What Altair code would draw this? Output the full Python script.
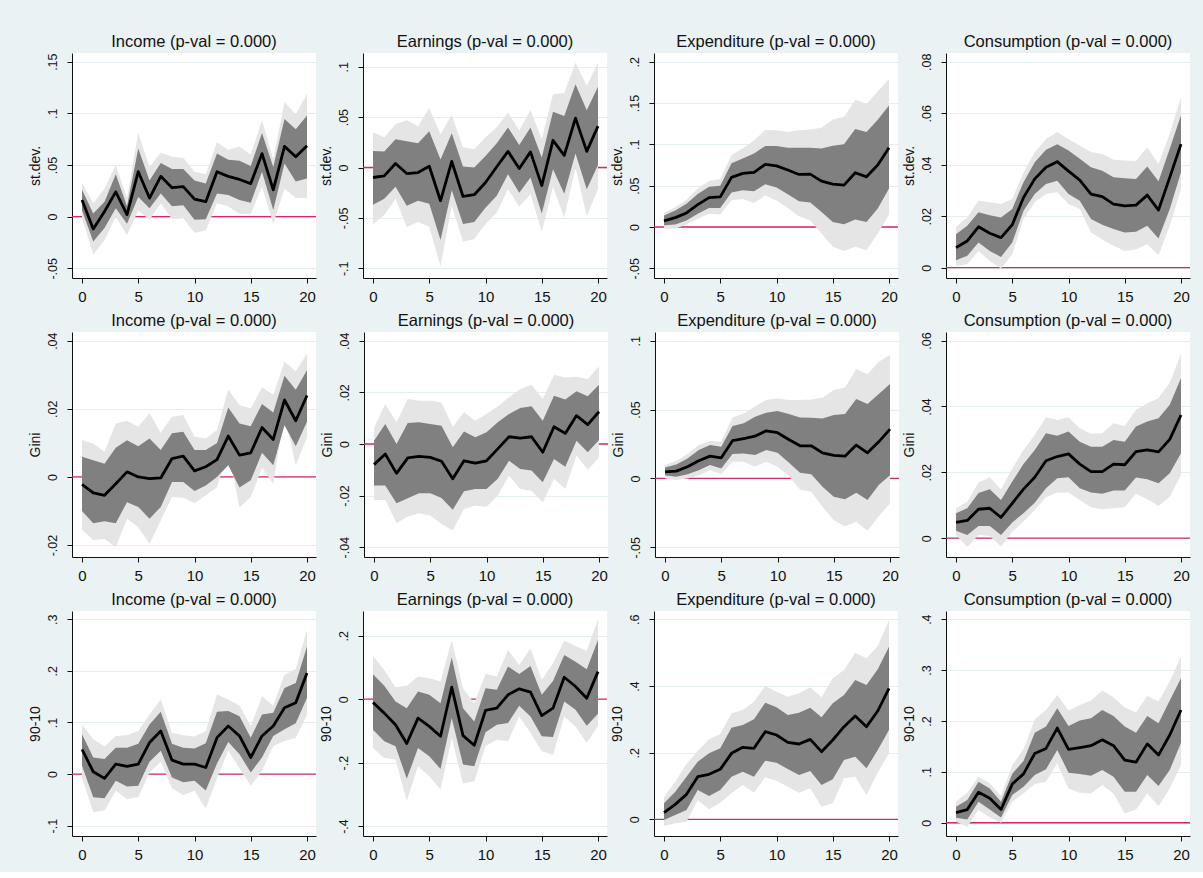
import altair as alt
import pandas as pd

H = list(range(21))

# ---------- Row 1: st.dev. ----------
inc_sd_est = [0.016, -0.012, 0.005, 0.024, 0.002, 0.0435, 0.018, 0.039, 0.028, 0.029, 0.017, 0.0145, 0.0435, 0.039, 0.036, 0.032, 0.061, 0.026, 0.068, 0.058, 0.0687]
inc_sd_ihi = [0.026, 0.003, 0.0145, 0.041, 0.010, 0.066, 0.035, 0.052, 0.046, 0.046, 0.035, 0.032, 0.061, 0.055, 0.054, 0.049, 0.081, 0.048, 0.0945, 0.0845, 0.098]
inc_sd_ilo = [0.006, -0.024, -0.011, 0.008, -0.007, 0.019, 0.008, 0.0225, 0.010, 0.011, -0.003, -0.0026, 0.0225, 0.021, 0.016, 0.0135, 0.0435, 0.0065, 0.0515, 0.034, 0.037]
inc_sd_ohi = [0.033, 0.013, 0.027, 0.050, 0.018, 0.081, 0.048, 0.062, 0.058, 0.057, 0.0435, 0.041, 0.072, 0.0645, 0.068, 0.060, 0.0935, 0.0555, 0.111, 0.099, 0.119]
inc_sd_olo = [-0.001, -0.037, -0.0225, 0.0, -0.018, 0.006, -0.003, 0.013, -0.0026, -0.0016, -0.0155, -0.0135, 0.013, 0.010, 0.0026, 0.0026, 0.029, -0.007, 0.027, 0.018, 0.018]

ear_sd_est = [-0.0099, -0.0083, 0.004, -0.006, -0.005, 0.0013, -0.033, 0.006, -0.0287, -0.027, -0.0149, 0.0007, 0.016, -0.001, 0.0155, -0.018, 0.027, 0.012, 0.049, 0.016, 0.041]
ear_sd_ihi = [0.0165, 0.016, 0.028, 0.026, 0.024, 0.036, 0.008, 0.034, 0.001, 0.0, 0.0115, 0.024, 0.0396, 0.0224, 0.0396, 0.0099, 0.0554, 0.051, 0.0825, 0.0568, 0.080]
ear_sd_ilo = [-0.037, -0.031, -0.019, -0.038, -0.033, -0.036, -0.072, -0.0225, -0.056, -0.054, -0.040, -0.028, -0.0066, -0.025, -0.0099, -0.0455, -0.0017, -0.026, 0.0139, -0.0215, 0.0026]
ear_sd_ohi = [0.035, 0.030, 0.043, 0.047, 0.041, 0.059, 0.033, 0.052, 0.020, 0.018, 0.030, 0.040, 0.0545, 0.037, 0.057, 0.028, 0.0726, 0.074, 0.104, 0.081, 0.104]
ear_sd_olo = [-0.056, -0.047, -0.031, -0.059, -0.054, -0.059, -0.098, -0.038, -0.0736, -0.071, -0.056, -0.0446, -0.0215, -0.039, -0.0264, -0.064, -0.019, -0.0495, 0.0, -0.048, -0.0215]

exp_sd_est = [0.0073, 0.0113, 0.017, 0.027, 0.0356, 0.0364, 0.060, 0.0648, 0.066, 0.0757, 0.074, 0.069, 0.0636, 0.064, 0.0555, 0.0518, 0.0506, 0.0656, 0.0607, 0.075, 0.096]
exp_sd_ihi = [0.014, 0.020, 0.028, 0.040, 0.0486, 0.050, 0.077, 0.083, 0.089, 0.098, 0.098, 0.096, 0.096, 0.096, 0.095, 0.0984, 0.100, 0.1186, 0.115, 0.1296, 0.147]
exp_sd_ilo = [0.002, 0.003, 0.008, 0.016, 0.023, 0.023, 0.0417, 0.0445, 0.0433, 0.0518, 0.0478, 0.0397, 0.031, 0.0296, 0.018, 0.006, 0.0032, 0.009, 0.006, 0.0223, 0.0466]
exp_sd_ohi = [0.017, 0.024, 0.033, 0.0466, 0.0555, 0.058, 0.087, 0.095, 0.1045, 0.1174, 0.117, 0.115, 0.117, 0.118, 0.120, 0.130, 0.133, 0.154, 0.149, 0.164, 0.179]
exp_sd_olo = [-0.002, -0.002, 0.003, 0.010, 0.016, 0.015, 0.0324, 0.034, 0.029, 0.038, 0.032, 0.023, 0.013, 0.008, -0.008, -0.024, -0.029, -0.024, -0.028, -0.008, 0.015]

con_sd_est = [0.0078, 0.0104, 0.0159, 0.0134, 0.0117, 0.0167, 0.0273, 0.0345, 0.039, 0.0412, 0.0375, 0.034, 0.0286, 0.0276, 0.0247, 0.024, 0.0243, 0.0282, 0.0224, 0.0351, 0.048]
con_sd_ihi = [0.013, 0.0163, 0.0215, 0.0204, 0.0195, 0.0228, 0.0332, 0.041, 0.0458, 0.048, 0.0455, 0.0423, 0.039, 0.0377, 0.0351, 0.0347, 0.0345, 0.0393, 0.0336, 0.0462, 0.0592]
con_sd_ilo = [0.0029, 0.0046, 0.0098, 0.0065, 0.0042, 0.0098, 0.0221, 0.0286, 0.0325, 0.0338, 0.0286, 0.026, 0.0189, 0.0167, 0.015, 0.0137, 0.014, 0.0163, 0.0113, 0.0228, 0.0371]
con_sd_ohi = [0.0159, 0.0195, 0.026, 0.0254, 0.0247, 0.0267, 0.037, 0.0449, 0.050, 0.0527, 0.050, 0.0475, 0.0449, 0.0442, 0.0419, 0.0416, 0.0414, 0.0468, 0.0403, 0.052, 0.0663]
con_sd_olo = [0.0007, 0.0013, 0.0065, 0.0026, -0.0003, 0.0052, 0.0189, 0.0254, 0.0286, 0.0293, 0.0247, 0.0228, 0.0137, 0.011, 0.0085, 0.0065, 0.0072, 0.0091, 0.0048, 0.0163, 0.0306]

# ---------- Row 2: Gini ----------
inc_gi_est = [-0.0022, -0.0047, -0.0054, -0.002, 0.0015, 0.0, -0.0005, -0.0003, 0.0054, 0.0061, 0.0018, 0.003, 0.0051, 0.012, 0.0064, 0.0071, 0.0145, 0.011, 0.0226, 0.0165, 0.0239]
inc_gi_ihi = [0.0059, 0.0049, 0.0039, 0.0086, 0.0108, 0.009, 0.0113, 0.0079, 0.0128, 0.0133, 0.0079, 0.0079, 0.010, 0.0204, 0.0157, 0.0149, 0.0214, 0.0189, 0.0297, 0.0256, 0.0313]
inc_gi_ilo = [-0.010, -0.0136, -0.013, -0.0136, -0.0074, -0.0088, -0.0123, -0.0088, -0.0015, -0.0015, -0.0041, -0.0025, 0.0, 0.0034, -0.0031, -0.001, 0.0071, 0.0034, 0.0152, 0.009, 0.0162]
inc_gi_ohi = [0.0108, 0.0098, 0.0074, 0.0157, 0.0165, 0.0147, 0.0187, 0.013, 0.0177, 0.0182, 0.0118, 0.0113, 0.0138, 0.0257, 0.0211, 0.0201, 0.0263, 0.0241, 0.0339, 0.031, 0.0362]
inc_gi_olo = [-0.0155, -0.0185, -0.0182, -0.0206, -0.0123, -0.0147, -0.0197, -0.0128, -0.0059, -0.0061, -0.0077, -0.0054, -0.003, 0.0079, -0.009, -0.0059, 0.0027, -0.002, 0.0187, 0.0034, 0.0116]

ear_gi_est = [-0.008, -0.0039, -0.0114, -0.0054, -0.0048, -0.0052, -0.0067, -0.0135, -0.0065, -0.0074, -0.0065, -0.0019, 0.0028, 0.0023, 0.0028, -0.0032, 0.0067, 0.0041, 0.011, 0.0075, 0.0125]
ear_gi_ihi = [0.0013, 0.0077, 0.0, 0.0081, 0.0084, 0.0077, 0.0071, -0.0013, 0.0048, 0.0026, 0.0045, 0.0084, 0.0116, 0.0139, 0.0146, 0.009, 0.0187, 0.0172, 0.0204, 0.0185, 0.023]
ear_gi_ilo = [-0.0161, -0.0161, -0.023, -0.021, -0.0191, -0.0191, -0.0209, -0.0255, -0.0183, -0.0174, -0.0174, -0.0135, -0.0065, -0.0097, -0.0103, -0.0148, -0.0058, -0.0088, 0.0013, -0.0032, 0.0015]
ear_gi_ohi = [0.0062, 0.0155, 0.0084, 0.0174, 0.0168, 0.0168, 0.0161, 0.0067, 0.0123, 0.009, 0.0116, 0.0145, 0.0181, 0.0213, 0.023, 0.0174, 0.0268, 0.0258, 0.0261, 0.0252, 0.030]
ear_gi_olo = [-0.0217, -0.0217, -0.0307, -0.0281, -0.0268, -0.0277, -0.031, -0.0335, -0.0252, -0.0239, -0.0243, -0.020, -0.0123, -0.0174, -0.0181, -0.0226, -0.0135, -0.0174, -0.0045, -0.010, -0.0052]

exp_gi_est = [0.0048, 0.0053, 0.0085, 0.0128, 0.0162, 0.015, 0.0274, 0.029, 0.0307, 0.0346, 0.0332, 0.0283, 0.0237, 0.0237, 0.0186, 0.0167, 0.0162, 0.0242, 0.0186, 0.0266, 0.0358]
exp_gi_ihi = [0.008, 0.0102, 0.0145, 0.0206, 0.0242, 0.023, 0.038, 0.040, 0.0448, 0.0477, 0.0489, 0.0467, 0.0443, 0.0441, 0.0436, 0.046, 0.0467, 0.0576, 0.054, 0.0613, 0.0685]
exp_gi_ilo = [0.0024, 0.0012, 0.0031, 0.006, 0.0097, 0.0073, 0.0177, 0.0182, 0.017, 0.0206, 0.0186, 0.0116, 0.0041, 0.0031, -0.006, -0.0133, -0.015, -0.0104, -0.0157, -0.0048, 0.0024]
exp_gi_ohi = [0.0097, 0.0126, 0.0177, 0.0242, 0.0271, 0.0266, 0.0443, 0.0472, 0.0525, 0.0569, 0.0581, 0.0569, 0.0569, 0.0574, 0.0586, 0.0642, 0.0661, 0.0792, 0.0758, 0.0847, 0.0896]
exp_gi_olo = [0.0, -0.0012, 0.0, 0.0024, 0.006, 0.0031, 0.0121, 0.0121, 0.0085, 0.0121, 0.0085, 0.0019, -0.008, -0.0097, -0.0206, -0.0303, -0.0346, -0.0315, -0.038, -0.0274, -0.0182]

con_gi_est = [0.0048, 0.0054, 0.0088, 0.0091, 0.0063, 0.0106, 0.0149, 0.0185, 0.0235, 0.0248, 0.0256, 0.0225, 0.0202, 0.0202, 0.0225, 0.0223, 0.0263, 0.0268, 0.0262, 0.030, 0.0374]
con_gi_ihi = [0.0076, 0.0091, 0.0137, 0.0149, 0.0116, 0.0172, 0.0225, 0.0268, 0.0319, 0.0311, 0.0324, 0.0293, 0.0278, 0.0278, 0.0298, 0.0293, 0.0339, 0.0354, 0.0364, 0.0405, 0.0486]
con_gi_ilo = [0.0023, 0.001, 0.0037, 0.0037, 0.001, 0.0048, 0.0076, 0.0108, 0.0152, 0.0182, 0.0185, 0.0152, 0.0139, 0.0135, 0.0145, 0.0145, 0.0184, 0.0179, 0.0167, 0.0197, 0.0258]
con_gi_ohi = [0.0091, 0.0111, 0.0169, 0.0185, 0.0149, 0.0212, 0.0268, 0.0314, 0.0367, 0.0359, 0.0367, 0.0334, 0.0317, 0.0319, 0.0349, 0.0341, 0.039, 0.041, 0.0425, 0.0472, 0.0561]
con_gi_olo = [0.001, -0.0027, 0.001, 0.0007, -0.0025, 0.002, 0.0051, 0.0086, 0.0124, 0.0139, 0.0139, 0.0116, 0.0094, 0.0088, 0.0091, 0.0094, 0.0135, 0.0118, 0.0098, 0.0126, 0.0192]

# ---------- Row 3: 90-10 ----------
inc_91_est = [0.048, 0.0045, -0.0083, 0.0193, 0.0148, 0.0193, 0.061, 0.0835, 0.027, 0.0193, 0.0193, 0.0128, 0.0706, 0.0931, 0.0739, 0.0321, 0.0739, 0.0931, 0.1285, 0.1381, 0.1959]
inc_91_ihi = [0.077, 0.032, 0.029, 0.051, 0.051, 0.059, 0.096, 0.121, 0.059, 0.051, 0.0495, 0.0597, 0.121, 0.122, 0.112, 0.0706, 0.1156, 0.1188, 0.167, 0.1766, 0.247]
inc_91_ilo = [0.016, -0.045, -0.047, -0.0128, -0.024, -0.0225, 0.024, 0.045, -0.0064, -0.016, -0.0128, -0.032, 0.0206, 0.0623, 0.0385, 0.0032, 0.0321, 0.0739, 0.0867, 0.0983, 0.1477]
inc_91_ohi = [0.0963, 0.0674, 0.0533, 0.0739, 0.0751, 0.0835, 0.1156, 0.1445, 0.0803, 0.0751, 0.0726, 0.0835, 0.1541, 0.1445, 0.133, 0.0931, 0.151, 0.133, 0.1927, 0.2036, 0.2794]
inc_91_olo = [-0.0064, -0.0739, -0.0706, -0.0321, -0.0482, -0.045, 0.0032, 0.0238, -0.0276, -0.0405, -0.0321, -0.0674, -0.0083, 0.045, 0.0109, -0.0225, 0.0064, 0.0546, 0.0642, 0.0706, 0.1156]

ear_91_est = [-0.0105, -0.044, -0.0806, -0.140, -0.0597, -0.0859, -0.117, 0.0377, -0.115, -0.1455, -0.0356, -0.0283, 0.0136, 0.0325, 0.022, -0.052, -0.0283, 0.069, 0.0398, 0.003, 0.0869]
ear_91_ihi = [0.0785, 0.0419, -0.0073, -0.0283, 0.024, 0.0136, -0.0126, 0.131, -0.0283, -0.0702, 0.0346, 0.0293, 0.1026, 0.0796, 0.1047, 0.0136, 0.0576, 0.1393, 0.1183, 0.0942, 0.1864]
ear_91_ilo = [-0.0963, -0.133, -0.1487, -0.2513, -0.154, -0.180, -0.220, -0.0597, -0.2063, -0.2115, -0.1047, -0.0806, -0.0754, -0.0209, -0.0545, -0.1173, -0.1194, -0.0073, -0.0335, -0.0838, -0.0461]
ear_91_ohi = [0.1361, 0.0921, 0.0377, 0.0419, 0.0712, 0.066, 0.0555, 0.1864, 0.0346, -0.0126, 0.0796, 0.0712, 0.155, 0.1078, 0.1602, 0.0607, 0.1131, 0.1843, 0.1675, 0.1529, 0.2513]
ear_91_olo = [-0.1539, -0.1853, -0.1906, -0.3215, -0.2115, -0.2429, -0.2848, -0.1225, -0.266, -0.2586, -0.1487, -0.1277, -0.133, -0.0545, -0.1068, -0.1644, -0.1749, -0.0545, -0.0859, -0.1382, -0.0838]

exp_91_est = [0.020, 0.045, 0.075, 0.128, 0.135, 0.150, 0.198, 0.216, 0.213, 0.263, 0.253, 0.231, 0.226, 0.240, 0.203, 0.238, 0.278, 0.310, 0.278, 0.325, 0.393]
exp_91_ihi = [0.048, 0.083, 0.128, 0.173, 0.198, 0.213, 0.275, 0.283, 0.300, 0.350, 0.336, 0.313, 0.320, 0.335, 0.306, 0.348, 0.373, 0.418, 0.403, 0.450, 0.518]
exp_91_ilo = [-0.002, 0.013, 0.028, 0.088, 0.070, 0.088, 0.128, 0.143, 0.128, 0.176, 0.170, 0.151, 0.133, 0.145, 0.103, 0.120, 0.178, 0.188, 0.153, 0.208, 0.268]
exp_91_ohi = [0.066, 0.113, 0.166, 0.206, 0.240, 0.256, 0.318, 0.328, 0.353, 0.400, 0.383, 0.368, 0.378, 0.396, 0.366, 0.423, 0.448, 0.500, 0.483, 0.520, 0.598]
exp_91_olo = [-0.020, -0.012, -0.007, 0.058, 0.030, 0.050, 0.078, 0.103, 0.080, 0.126, 0.116, 0.098, 0.080, 0.093, 0.038, 0.048, 0.123, 0.128, 0.073, 0.140, 0.198]

con_91_est = [0.020, 0.026, 0.060, 0.048, 0.026, 0.076, 0.096, 0.136, 0.146, 0.186, 0.144, 0.1475, 0.1515, 0.163, 0.1515, 0.123, 0.119, 0.155, 0.133, 0.1725, 0.2216]
con_91_ihi = [0.0315, 0.0446, 0.0807, 0.0675, 0.0413, 0.0964, 0.1213, 0.177, 0.1889, 0.225, 0.190, 0.2007, 0.2052, 0.2216, 0.2098, 0.1889, 0.177, 0.2098, 0.1954, 0.240, 0.2839]
con_91_ilo = [0.010, 0.0066, 0.0413, 0.026, 0.0105, 0.0544, 0.0708, 0.0938, 0.105, 0.143, 0.0984, 0.0957, 0.0925, 0.1036, 0.0905, 0.061, 0.061, 0.0938, 0.0721, 0.1036, 0.1574]
con_91_ohi = [0.0413, 0.059, 0.0905, 0.0774, 0.0525, 0.1134, 0.1443, 0.2033, 0.2216, 0.2511, 0.2203, 0.2315, 0.240, 0.2597, 0.2466, 0.2262, 0.2164, 0.2492, 0.238, 0.2774, 0.3266]
con_91_olo = [0.002, -0.0079, 0.0249, 0.0105, 0.0, 0.0413, 0.0577, 0.076, 0.0807, 0.1167, 0.0675, 0.059, 0.0577, 0.0741, 0.0577, 0.0184, 0.0262, 0.0577, 0.0328, 0.0675, 0.1134]

# panel titles, axis titles, ticks, ranges
col_titles = ["Income (p-val = 0.000)", "Earnings (p-val = 0.000)",
              "Expenditure (p-val = 0.000)", "Consumption (p-val = 0.000)"]
row_titles = ["st.dev.", "Gini", "90-10"]
x_ticks = [0, 5, 10, 15, 20]
y_ticks = [
    [[-0.05, 0, 0.05, 0.1, 0.15], [-0.1, -0.05, 0, 0.05, 0.1],
     [-0.05, 0, 0.05, 0.1, 0.15, 0.2], [0, 0.02, 0.04, 0.06, 0.08]],
    [[-0.02, 0, 0.02, 0.04], [-0.04, -0.02, 0, 0.02, 0.04],
     [-0.05, 0, 0.05, 0.1], [0, 0.02, 0.04, 0.06]],
    [[-0.1, 0, 0.1, 0.2, 0.3], [-0.4, -0.2, 0, 0.2],
     [0, 0.2, 0.4, 0.6], [0, 0.1, 0.2, 0.3, 0.4]],
]
y_domains = [
    [[-0.0594, 0.1584], [-0.1096, 0.1136], [-0.0617, 0.2105], [-0.004, 0.0834]],
    [[-0.0235, 0.04255], [-0.0438, 0.0434], [-0.057, 0.1063], [-0.0057, 0.0626]],
    [[-0.12, 0.316], [-0.4315, 0.278], [-0.05, 0.625], [-0.026, 0.416]],
]
x_domain = [-0.89, 20.8]

series = [
    [(inc_sd_est, inc_sd_ilo, inc_sd_ihi, inc_sd_olo, inc_sd_ohi),
     (ear_sd_est, ear_sd_ilo, ear_sd_ihi, ear_sd_olo, ear_sd_ohi),
     (exp_sd_est, exp_sd_ilo, exp_sd_ihi, exp_sd_olo, exp_sd_ohi),
     (con_sd_est, con_sd_ilo, con_sd_ihi, con_sd_olo, con_sd_ohi)],
    [(inc_gi_est, inc_gi_ilo, inc_gi_ihi, inc_gi_olo, inc_gi_ohi),
     (ear_gi_est, ear_gi_ilo, ear_gi_ihi, ear_gi_olo, ear_gi_ohi),
     (exp_gi_est, exp_gi_ilo, exp_gi_ihi, exp_gi_olo, exp_gi_ohi),
     (con_gi_est, con_gi_ilo, con_gi_ihi, con_gi_olo, con_gi_ohi)],
    [(inc_91_est, inc_91_ilo, inc_91_ihi, inc_91_olo, inc_91_ohi),
     (ear_91_est, ear_91_ilo, ear_91_ihi, ear_91_olo, ear_91_ohi),
     (exp_91_est, exp_91_ilo, exp_91_ihi, exp_91_olo, exp_91_ohi),
     (con_91_est, con_91_ilo, con_91_ihi, con_91_olo, con_91_ohi)],
]

FONT = "Liberation Sans"
BG = "#EAF2F3"
GRID = "#E4EDEF"
LIGHT = "#E5E5E5"
DARK = "#808080"
RED = "#D6285A"
INK = "#111111"

W, HGT = 244, 225


def panel(title, ytitle, data, ydom, yt):
    est, ilo, ihi, olo, ohi = data
    df = pd.DataFrame({"h": H, "est": est, "ilo": ilo, "ihi": ihi, "olo": olo, "ohi": ohi})
    zdf = pd.DataFrame({"h": [0], "z": [0.0]})
    tdf = pd.DataFrame({"t": [title]})
    xs = alt.Scale(domain=x_domain, nice=False, zero=False)
    ys = alt.Scale(domain=ydom, nice=False, zero=False)
    xax = alt.Axis(values=x_ticks, title=None, grid=False, domainColor=INK, domainWidth=1,
                   tickColor=INK, tickSize=5, tickWidth=1, labelFontSize=15, labelPadding=6,
                   labelColor=INK, labelFlush=False, labelOverlap=False, format="d")
    yax = alt.Axis(values=yt, title=ytitle, grid=True, gridColor=GRID, gridWidth=1,
                   domainColor=INK, domainWidth=1, tickColor=INK, tickSize=5, tickWidth=1,
                   labelAngle=270, labelFontSize=12.5, labelPadding=8, labelColor=INK,
                   labelFlush=False, labelOverlap=False,
                   labelExpr="replace(toString(datum.value), '0.', '.')",
                   titleFontSize=14, titleFontWeight="normal", titleColor=INK, titlePadding=4)
    zero = alt.Chart(zdf).mark_rule(color=RED, strokeWidth=1.3).encode(
        y=alt.Y("z:Q", scale=ys, axis=yax))
    outer = alt.Chart(df).mark_area(color=LIGHT, opacity=1).encode(
        x=alt.X("h:Q", scale=xs, axis=xax),
        y=alt.Y("olo:Q", scale=ys, axis=yax), y2="ohi:Q")
    inner = alt.Chart(df).mark_area(color=DARK, opacity=1).encode(
        x=alt.X("h:Q", scale=xs, axis=xax),
        y=alt.Y("ilo:Q", scale=ys, axis=yax), y2="ihi:Q")
    line = alt.Chart(df).mark_line(color="black", strokeWidth=2.8, strokeJoin="round").encode(
        x=alt.X("h:Q", scale=xs, axis=xax),
        y=alt.Y("est:Q", scale=ys, axis=yax))
    ttl = alt.Chart(tdf).mark_text(font=FONT, fontSize=16.5, color=INK, align="center",
                                   baseline="alphabetic").encode(
        text="t:N", x=alt.value(W / 2), y=alt.value(-6))
    return alt.layer(zero, outer, inner, line, ttl).properties(width=W, height=HGT)


rows = []
for r in range(3):
    cells = [panel(col_titles[c], row_titles[r], series[r][c], y_domains[r][c], y_ticks[r][c])
             for c in range(4)]
    rows.append(alt.hconcat(*cells, spacing=2).resolve_scale(x="independent", y="independent"))

chart = alt.vconcat(*rows, spacing=9).resolve_scale(x="independent", y="independent").properties(
    background=BG,
    padding={"left": 27, "top": 34, "right": 12, "bottom": 10},
).configure_view(strokeWidth=0, fill="white").configure_axis(
    labelFont=FONT, titleFont=FONT)

chart.save("out.html", embed_options={"renderer": "svg", "actions": False})
